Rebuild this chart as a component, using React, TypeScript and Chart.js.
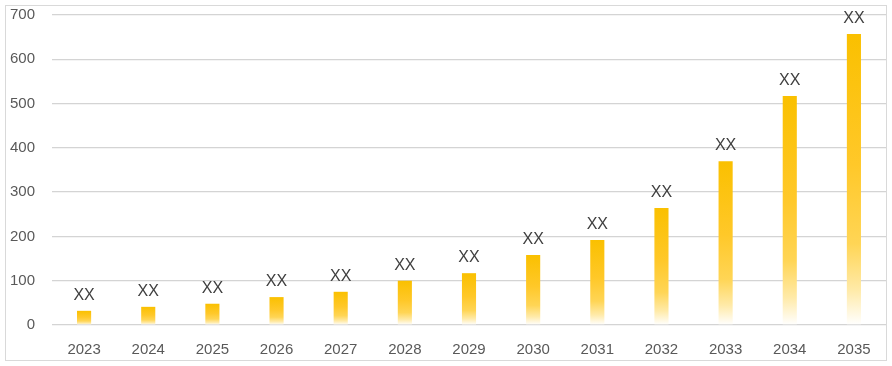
import React, { useEffect, useRef } from "react";
import { Chart, registerables } from "chart.js";

Chart.register(...registerables);

const categories = ["2023", "2024", "2025", "2026", "2027", "2028", "2029", "2030", "2031", "2032", "2033", "2034", "2035"];
const values = [32, 41, 48, 63, 75, 100, 117, 158, 192, 264, 370, 517, 657];
const valueLabels = ["XX", "XX", "XX", "XX", "XX", "XX", "XX", "XX", "XX", "XX", "XX", "XX", "XX"];
const yTicks = [0, 100, 200, 300, 400, 500, 600, 700];

const FONT = "'Liberation Sans', Arial, sans-serif";

const labelPlugin = {
  id: "xxLabels",
  afterDatasetsDraw(chart: any) {
    const ctx = chart.ctx;
    const meta = chart.getDatasetMeta(0);
    ctx.save();
    ctx.font = `16px ${FONT}`;
    ctx.fillStyle = "#404040";
    ctx.textAlign = "center";
    ctx.textBaseline = "alphabetic";
    meta.data.forEach((bar: any, i: number) => {
      ctx.fillText(valueLabels[i], bar.x, bar.y - 11);
    });
    ctx.restore();
  },
};

export default function App() {
  const ref = useRef<HTMLCanvasElement | null>(null);

  useEffect(() => {
    document.body.style.margin = "0";
    const canvas = ref.current!;
    const chart = new Chart(canvas, {
      type: "bar",
      data: {
        labels: categories,
        datasets: [
          {
            data: values,
            barPercentage: 0.22,
            categoryPercentage: 1,
            backgroundColor: (c: any) => {
              const ch = c.chart;
              const ys = ch.scales?.y;
              if (!ys || c.dataIndex === undefined) return "#FFC000";
              const v = values[c.dataIndex];
              const top = ys.getPixelForValue(v);
              const base = ys.getPixelForValue(0);
              if (!isFinite(top) || !isFinite(base) || base - top < 1) return "#FFC000";
              const g = ch.ctx.createLinearGradient(0, top, 0, base);
              g.addColorStop(0, "#FAC000");
              g.addColorStop(0.45, "#FFC829");
              g.addColorStop(0.72, "#FFD555");
              g.addColorStop(0.88, "#FFEAA8");
              g.addColorStop(1, "#FFFFFF");
              return g;
            },
            borderWidth: 0,
          },
        ],
      },
      options: {
        animation: false,
        responsive: false,
        maintainAspectRatio: false,
        layout: { padding: { left: 0, right: 6, top: 15, bottom: 0 } },
        plugins: {
          legend: { display: false },
          tooltip: { enabled: false },
        },
        scales: {
          x: {
            grid: { display: false, drawTicks: false },
            border: { display: false },
            ticks: {
              color: "#595959",
              font: { family: FONT, size: 15 },
              padding: 16,
              maxRotation: 0,
            },
            afterFit: (s: any) => {
              s.height = 41;
              s.paddingLeft = 0;
              s.paddingRight = 0;
            },
          },
          y: {
            min: 0,
            max: 700,
            afterBuildTicks: (s: any) => {
              s.ticks = yTicks.map((v) => ({ value: v }));
            },
            grid: { color: "#D4D4D4", lineWidth: 1.3, drawTicks: false },
            border: { display: false },
            ticks: {
              color: "#595959",
              font: { family: FONT, size: 15 },
              padding: 17,
            },
            afterFit: (s: any) => {
              s.width = 52;
              s.paddingTop = 0;
              s.paddingBottom = 0;
            },
          },
        },
      },
      plugins: [labelPlugin],
    });
    return () => chart.destroy();
  }, []);

  return (
    <div style={{ position: "relative", width: 892, height: 366 }}>
      <canvas ref={ref} width={892} height={366} style={{ position: "absolute", left: 0, top: 0, width: 892, height: 366 }} />
      <div
        style={{
          position: "absolute",
          left: 5,
          top: 5,
          width: 880,
          height: 354,
          border: "1px solid #D9D9D9",
          pointerEvents: "none",
        }}
      />
    </div>
  );
}
